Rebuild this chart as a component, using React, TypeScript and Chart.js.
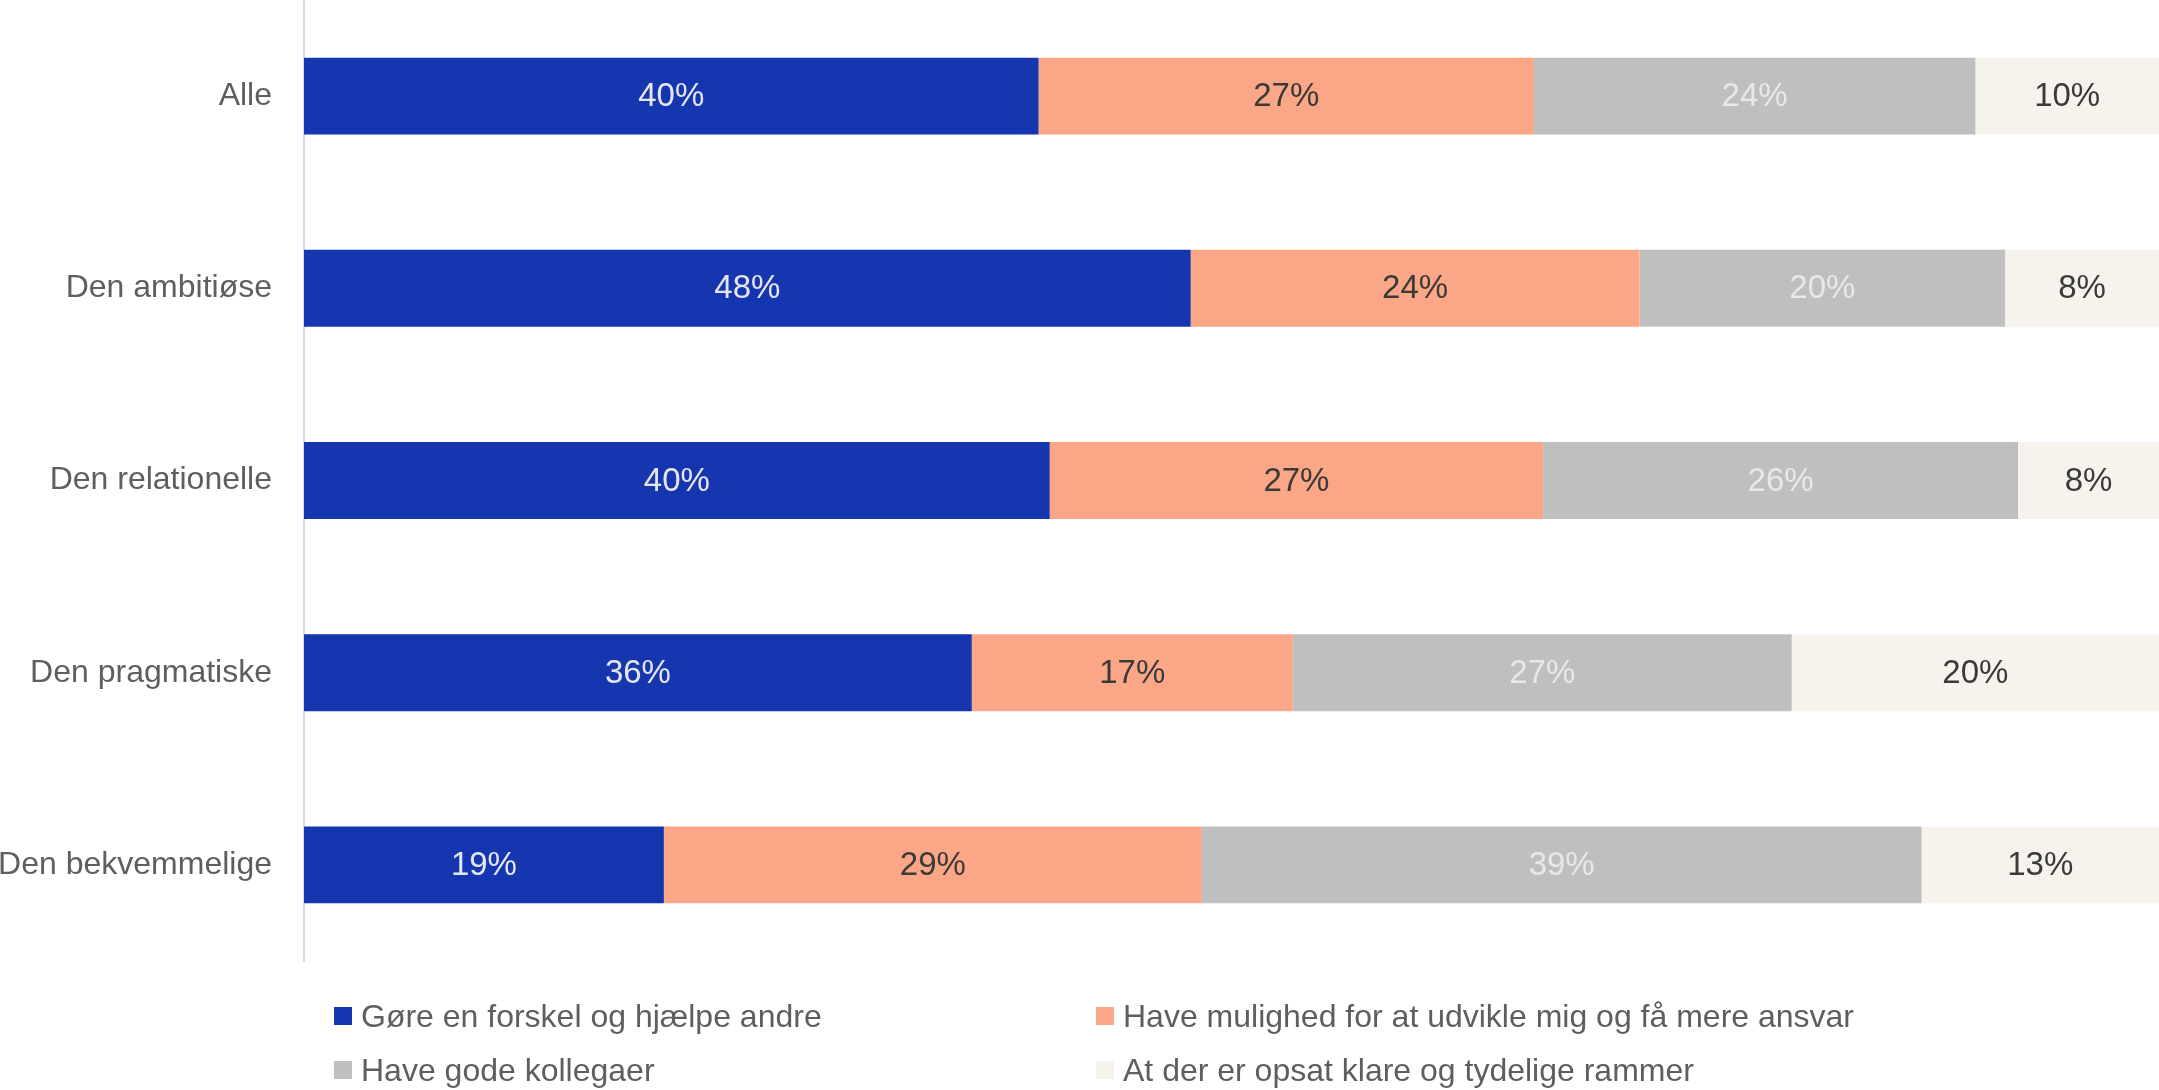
import React, { useEffect, useRef } from "react";
import { Chart, registerables } from "chart.js";

Chart.register(...registerables);

const categories = ["Alle", "Den ambitiøse", "Den relationelle", "Den pragmatiske", "Den bekvemmelige"];
const seriesNames = [
  "Gøre en forskel og hjælpe andre",
  "Have mulighed for at udvikle mig og få mere ansvar",
  "Have gode kollegaer",
  "At der er opsat klare og tydelige rammer",
];
const forskelValues = [39.6, 47.8, 40.2, 36.0, 19.4];
const udvikleValues = [26.7, 24.2, 26.6, 17.3, 29.0];
const kollegaerValues = [23.8, 19.7, 25.6, 26.9, 38.8];
const rammerValues = [9.9, 8.3, 7.6, 19.8, 12.8];

const seriesColors = ["#1636AF", "#FBA687", "#BFBFBF", "#F5F3EB"];
const labelColors = ["#E6E6F0", "#3A3A3A", "#E8E8E8", "#3A3A3A"];
const FONT = "'Liberation Sans', Arial, Helvetica, sans-serif";

const segLabelPlugin = {
  id: "segLabels",
  afterDatasetsDraw(chart: any) {
    const ctx = chart.ctx;
    ctx.save();
    ctx.font = `33px ${FONT}`;
    ctx.textAlign = "center";
    ctx.textBaseline = "middle";
    chart.data.datasets.forEach((ds: any, di: number) => {
      const meta = chart.getDatasetMeta(di);
      meta.data.forEach((el: any, i: number) => {
        const { x, base, y } = el.getProps(["x", "base", "y"], true);
        ctx.fillStyle = labelColors[di];
        ctx.fillText(Math.round(ds.data[i]) + "%", (x + base) / 2, y + 1);
      });
    });
    ctx.restore();
  },
};

export default function App() {
  const canvasRef = useRef<HTMLCanvasElement | null>(null);

  useEffect(() => {
    if (!canvasRef.current) return;
    const allValues = [forskelValues, udvikleValues, kollegaerValues, rammerValues];
    const chart = new Chart(canvasRef.current, {
      type: "bar",
      data: {
        labels: categories,
        datasets: seriesNames.map((name, i) => ({
          label: name,
          data: allValues[i],
          backgroundColor: seriesColors[i],
          borderWidth: 0,
          barPercentage: 0.4,
          categoryPercentage: 1,
        })),
      },
      options: {
        indexAxis: "y",
        responsive: false,
        animation: false,
        layout: { padding: { top: 0, bottom: 129, left: 0, right: 0 } },
        plugins: {
          legend: { display: false },
          tooltip: { enabled: false },
        },
        scales: {
          x: {
            stacked: true,
            min: 0,
            max: 100,
            display: false,
          },
          y: {
            stacked: true,
            grid: { display: false, drawTicks: false },
            border: { display: true, color: "#D9D9D9", width: 2 },
            ticks: {
              padding: 32,
              color: "#5E5E5E",
              font: { family: FONT, size: 32 },
            },
            afterFit: (scale: any) => {
              scale.width = 304;
              scale.paddingTop = 0;
              scale.paddingBottom = 0;
            },
          },
        },
      },
      plugins: [segLabelPlugin],
    } as any);
    return () => chart.destroy();
  }, []);

  const legendPos = [
    { left: 334, top: 998 },
    { left: 1096, top: 998 },
    { left: 334, top: 1052 },
    { left: 1096, top: 1052 },
  ];

  return (
    <div style={{ position: "absolute", left: 0, top: 0, width: 2159, height: 1090, background: "#fff", overflow: "hidden" }}>
      <canvas ref={canvasRef} width={2159} height={1090} style={{ display: "block", width: 2159, height: 1090 }} />
      {seriesNames.map((name, i) => (
        <div
          key={name}
          style={{
            position: "absolute",
            left: legendPos[i].left,
            top: legendPos[i].top,
            height: 36,
            display: "flex",
            alignItems: "center",
            whiteSpace: "nowrap",
            fontFamily: FONT,
            fontSize: 32,
            color: "#5E5E5E",
          }}
        >
          <span style={{ display: "inline-block", width: 18, height: 18, background: seriesColors[i], marginRight: 9 }} />
          <span>{name}</span>
        </div>
      ))}
    </div>
  );
}
